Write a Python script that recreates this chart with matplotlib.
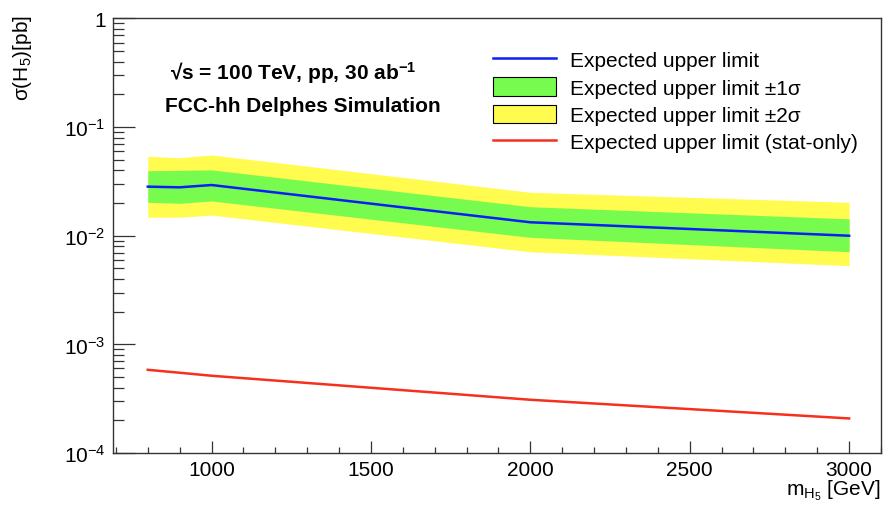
import numpy as np
import matplotlib
matplotlib.use('Agg')
import matplotlib.pyplot as plt
from matplotlib.patches import Patch
from matplotlib.lines import Line2D
from matplotlib.ticker import LogLocator, MultipleLocator, FixedLocator

plt.rcParams['font.family'] = ['Liberation Sans', 'DejaVu Sans']
plt.rcParams['mathtext.fontset'] = 'custom'
plt.rcParams['mathtext.rm'] = 'Liberation Sans'
plt.rcParams['mathtext.it'] = 'Liberation Sans:italic'
plt.rcParams['mathtext.bf'] = 'Liberation Sans:bold'

# Datos
masa = [800, 900, 1000, 2000, 3000]
esperado = [0.0283, 0.0279, 0.0293, 0.0133, 0.0100]
banda1_sup = [0.0397, 0.0400, 0.0404, 0.0185, 0.0143]
banda1_inf = [0.0203, 0.0199, 0.0209, 0.00966, 0.00712]
banda2_sup = [0.0538, 0.0522, 0.0554, 0.0251, 0.0203]
banda2_inf = [0.0148, 0.0148, 0.0155, 0.00712, 0.0053]
solo_stat = [0.000583, 0.000548, 0.000514, 0.000309, 0.000208]

fig = plt.figure(figsize=(8.89, 5.06), dpi=100)
ax = fig.add_axes([0.1268, 0.1028, 0.991 - 0.1268, 0.9615 - 0.1028])

ax.fill_between(masa, banda2_inf, banda2_sup, color='#fffb4f', lw=0)
ax.fill_between(masa, banda1_inf, banda1_sup, color='#78fb4f', lw=0)
ax.plot(masa, esperado, color='#0a1ff5', lw=1.8)
ax.plot(masa, solo_stat, color='#f5301f', lw=1.8)

ax.set_yscale('log')
ax.set_xlim(690, 3100)
ax.set_ylim(1e-4, 1)

ax.yaxis.set_major_locator(FixedLocator([1e-4, 1e-3, 1e-2, 1e-1, 1]))
ax.yaxis.set_major_formatter(plt.FuncFormatter(
    lambda v, p: '1' if v == 1 else r'$10^{%d}$' % round(np.log10(v))))
ax.yaxis.set_minor_locator(LogLocator(base=10, subs=np.arange(2, 10), numticks=20))
ax.yaxis.set_minor_formatter(plt.NullFormatter())
ax.xaxis.set_major_locator(MultipleLocator(500))
ax.xaxis.set_minor_locator(MultipleLocator(100))

for s in ax.spines.values():
    s.set_linewidth(1.0)
    s.set_color('#333333')

ax.tick_params(axis='y', which='major', direction='in', length=15.8, width=0.9,
               labelsize=15, pad=5, color='#333333')
ax.tick_params(axis='y', which='minor', direction='in', length=7.9, width=0.9,
               color='#333333')
ax.tick_params(axis='x', which='major', direction='in', length=8.6, width=0.9,
               labelsize=15, pad=5, color='#333333')
ax.tick_params(axis='x', which='minor', direction='in', length=4.3, width=0.9,
               color='#333333')

fig.text(0.025, 0.97, r'σ(H$_5$)[pb]', rotation=90, fontsize=15,
         ha='center', va='top')
fig.text(0.991, 0.005, r'm$_{\mathrm{H}_5}$ [GeV]', fontsize=15,
         ha='right', va='bottom')

fig.text(170 / 889, 1 - 73 / 506, r'√s = 100 TeV, pp, 30 ab$^{\mathbf{-1}}$',
         fontsize=15, fontweight='bold', ha='left', va='center')
fig.text(165 / 889, 1 - 107 / 506, 'FCC-hh Delphes Simulation',
         fontsize=15, fontweight='bold', ha='left', va='center')

handles = [
    Line2D([], [], color='#0a1ff5', lw=1.8),
    Patch(facecolor='#78fb4f', edgecolor='black', lw=0.8),
    Patch(facecolor='#fffb4f', edgecolor='black', lw=0.8),
    Line2D([], [], color='#f5301f', lw=1.8),
]
labels = ['Expected upper limit', 'Expected upper limit ±1σ',
          'Expected upper limit ±2σ', 'Expected upper limit (stat-only)']
fig.legend(handles, labels, loc='upper left', bbox_to_anchor=(493 / 889, 1 - 51 / 506),
           frameon=False, fontsize=15, handlelength=3.0, handleheight=1.0,
           handletextpad=0.7, labelspacing=0.33, borderaxespad=0, borderpad=0)

fig.savefig('out.png', dpi=100)
